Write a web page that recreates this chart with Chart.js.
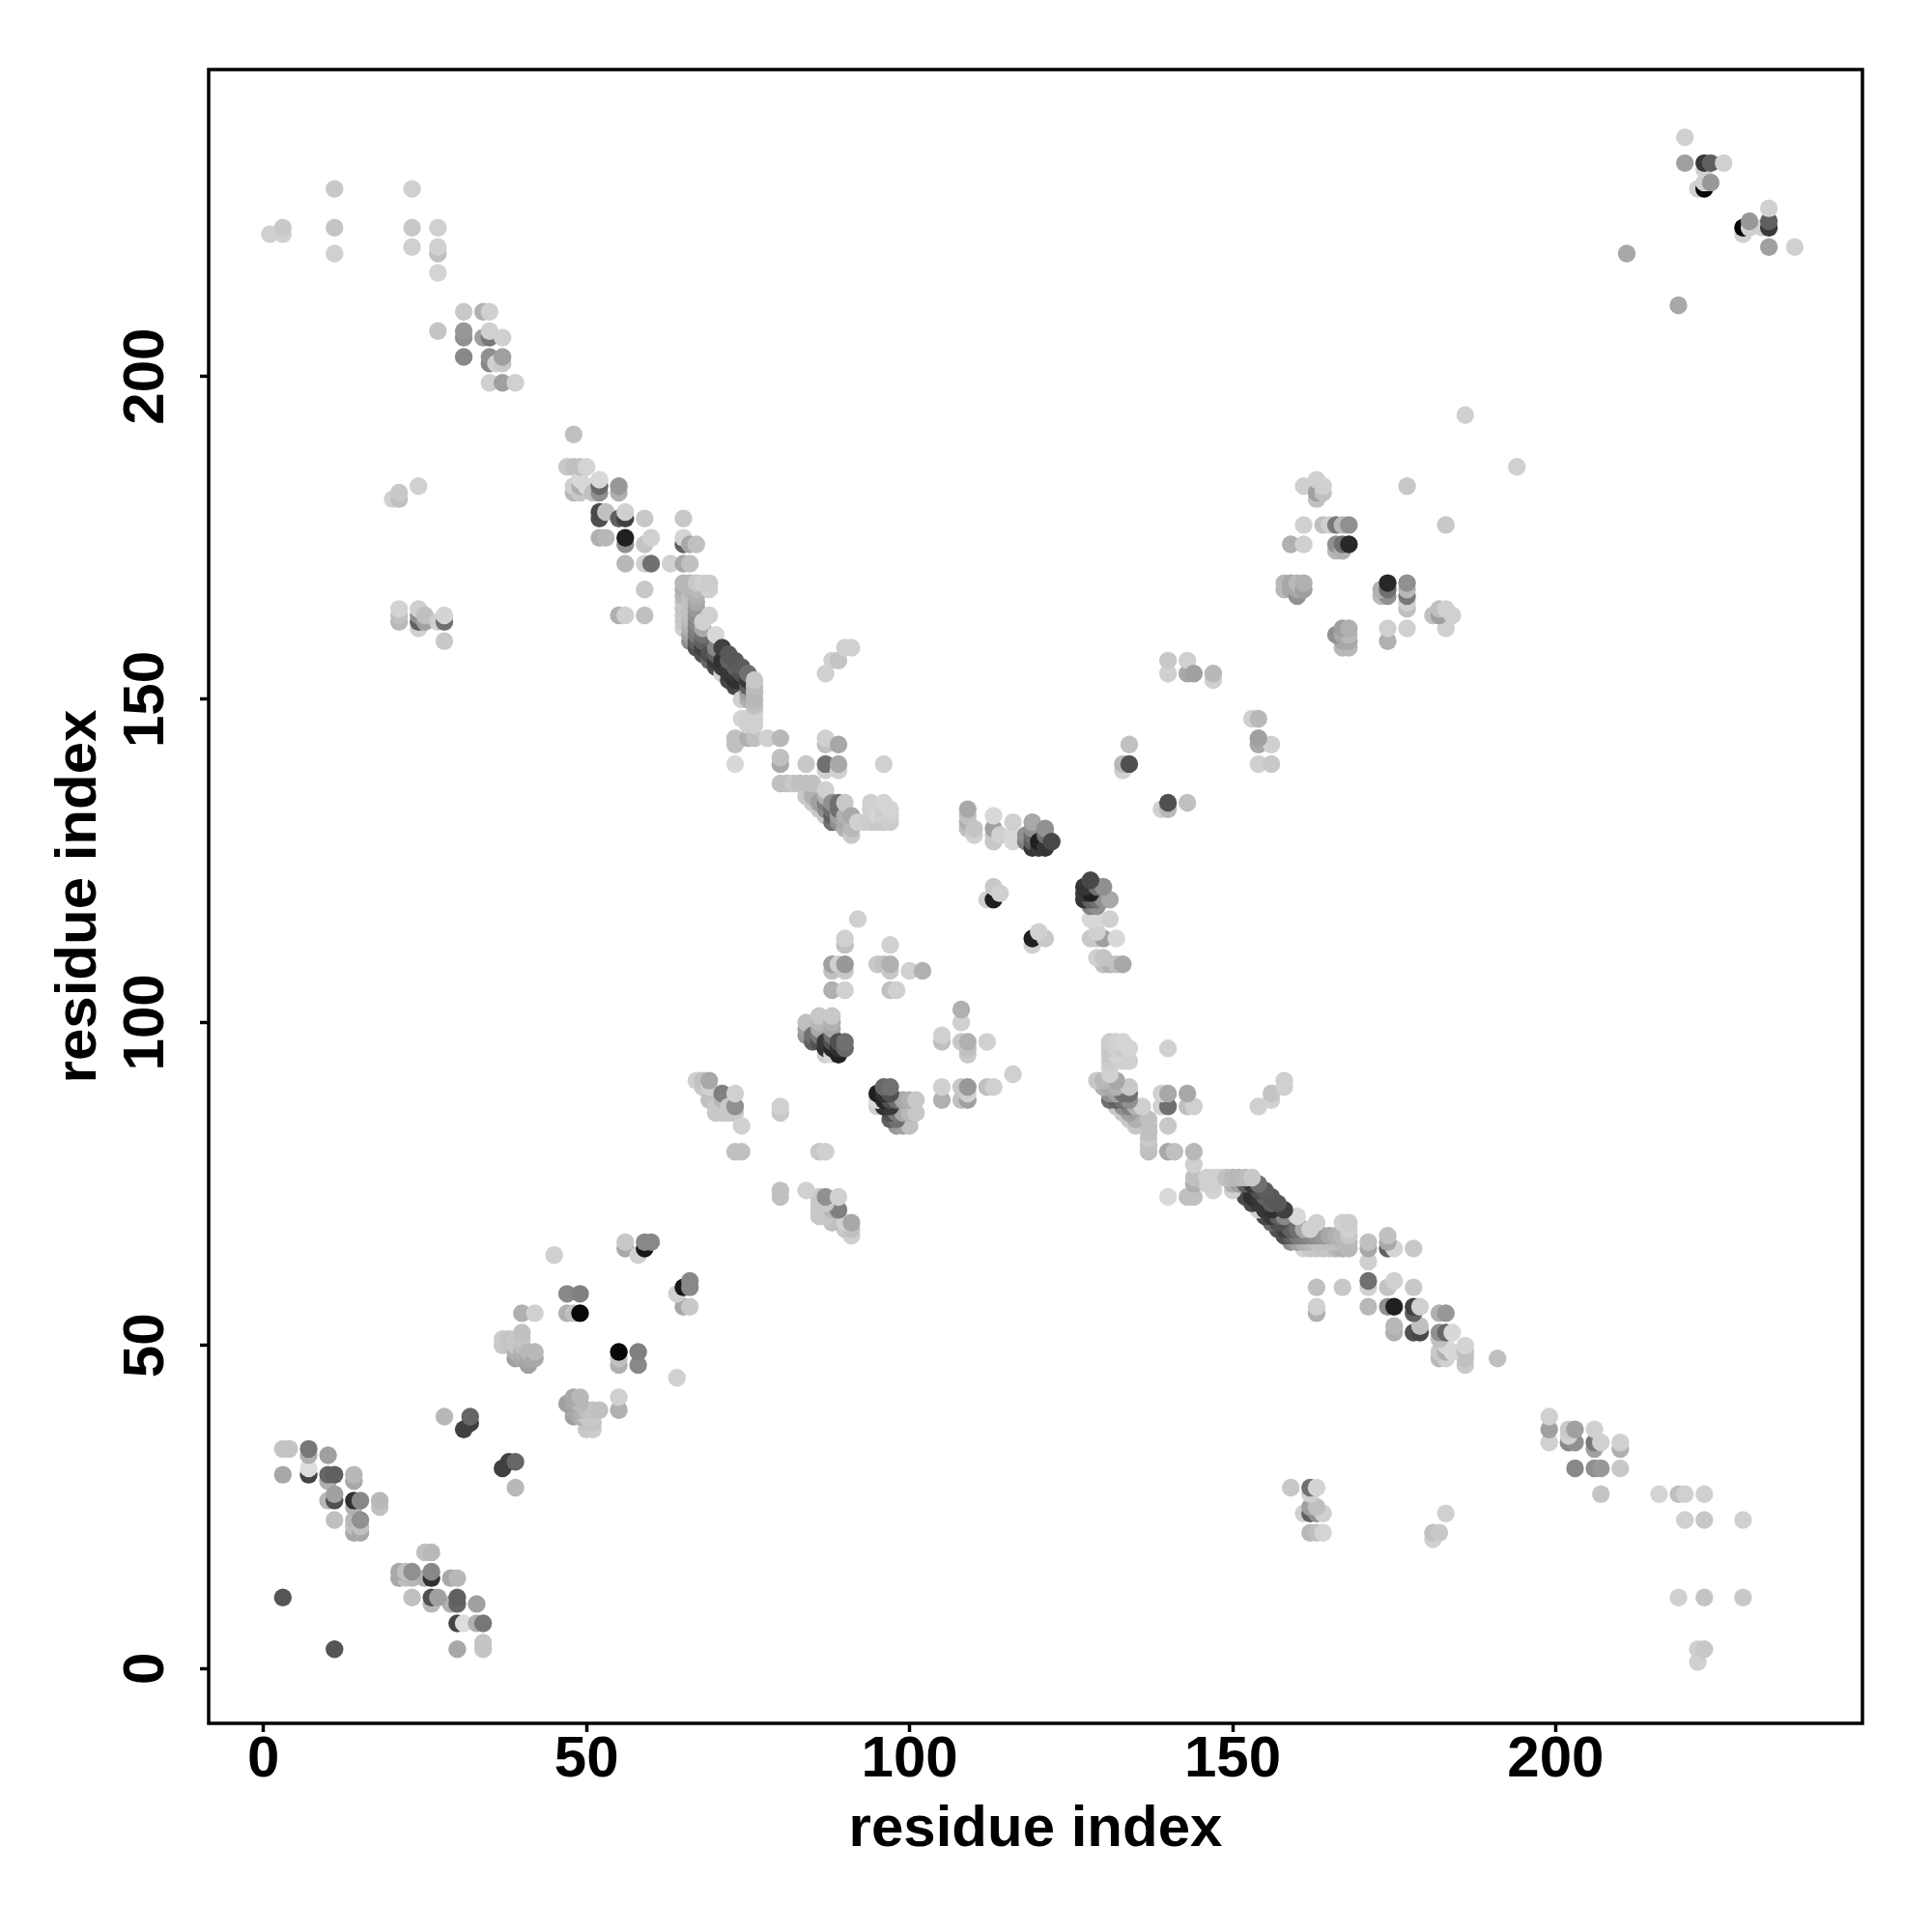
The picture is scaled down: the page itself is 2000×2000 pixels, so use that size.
<!DOCTYPE html>
<html><head><meta charset="utf-8">
<style>html,body{margin:0;padding:0;background:#fff}canvas{display:block}</style>
<script src="https://cdn.jsdelivr.net/npm/chart.js@4"></script>
</head><body>
<canvas id="c" width="2000" height="2000"></canvas>
<script>
const axisTitle = 'residue index';
const tickValues = [0, 50, 100, 150, 200];
const axisMin = -8.48, axisMax = 247.48;

// residue i of each contact group
const residues = [1,3,4,7,10,11,14,15,18,20,21,23,24,25,27,28,31,32,34,35,36,37,38,39,40,41,42,45,47,48,49,50,51,52,53,55,56,58,59,60,63,65,66,67,68,69,70,71,72,73,74,75,76,78,80,81,82,83,84,85,86,87,88,89,90,91,92,93,94,95,96,97,98,100,102,109,110,112,113,114,116,118,119,120,121,122,133,134,140,143,144,147,158,159,160,161,163,164,165,166,167,168,177,186,211,220,222,223,224,226];

// residues j in contact with residue i (same row order as residues)
const partners = [
[222],[11,30,34,222,223],[34],[30,31,33,34],[26,29,30,33],[23,26,27,30,219,223,229],
[21,22,23,25,26,29,30],[21,22,23,26],[25,26],[181],[162,163,164,181,182],[220,223,229],
[161,162,163,164,183],[162,163],[162,207,216,219,220,223],[39,159,162,163],[37,203,206,207,210],[38,39],
[206,210],[199,202,203,206,207,210],[202],[50,51,199,202,203,206],[50,51],[48,49,50,51,199],
[48,49,50,51,52,55],[47,48,49],[48,49,55],[64],[55,58,186],[55,182,183,186,191],
[55,58,182,183,184,186],[183,186],[182],[175,178,179,182,183,184],[175,179],[163,178,182,183],
[65,66,163,171,174,175,178,179],[64],[65,66,163,167,171,174,178],[66,171,175],[171],
[161,162,163,164,165,166,167,168,171,174,175,178],
[159,160,161,162,163,164,165,166,167,168,171,174],
[91,158,159,160,161,162,163,164,165,166,167,168,174],
[90,91,157,158,159,160,161,162,168],
[88,90,91,156,157,163,167,168],
[86,87,155,156,157,158,160],
[86,88,89,154,155,156,158],
[86,87,153,154,155,156,157],
[80,86,87,89,140,143,144,152,153,154,155,156],
[80,84,147,150,153,154,155],
[144,146,147,150,151,152,153,154],
[144,146,147,148,149,150,151,152,153],
[144],[86,87,137,140,141,144],[137],[137],[137],
[98,99,100,135,137,140],
[97,98,134,135,137],
[97,98,99,100,101,133,134],
[95,96,97,132,133,134,135,136,139,140,143,144,154],
[95,96,97,98,99,100,101,105,108,109,131,132,133,134,156],
[95,96,97,109,131,132,133,134,139,140,143,156],
[96,97,105,108,109,112,113,130,131,132,134,158],
[129,130,132,158],[116,131],[131],[131,133,134],[109,131,132],[109,131,132,133,134,140],
[105,108,109,112,131,132,133],[105],[108],[108],
[130,131,132,133],[129,130],[119],[119,121,128,129,130,132],[120,129],[128,129,131],
[128,129],[127,128,129,130,131],[127,128],[127,129,130],[128],[139,140],[140,143],
[154,156],[154,156],[154],[153,154],
[167,168],[167,168,174],[166,167,168],[167,168,174,177,183],[181,182,184],[177,182,183],[177],
[173,174,177],[173,174,177],[174,177],[183],[194],[219],[233,237],[229],[229,230,232,233],[230,233],[233]
];

// grey level (0-255) of each contact (same shape as partners)
const shades = [
[0xd0],[0x55,0xa8,0xc4,0xd0,0xc8],[0xc4],[0x44,0xdd,0xb0,0x77],[0xb8,0xb0,0x66,0xa0],[0xc0,0x50,0xa0,0x60,0xd0,0xc4,0xc8],
[0xa8,0xc0,0xb8,0xb0,0x30,0xa8,0xb8],[0xa8,0xc0,0x90,0x88],[0xc0,0xb8],[0xd0],[0xb8,0xc0,0xd4,0xc0,0xc8],[0xd0,0xc8,0xd0],
[0xd0,0x60,0x90,0xd0,0xd0],[0xa0,0xc0],[0xd0,0xc4,0xd4,0xc0,0xd0,0xd0],[0xb8,0xc8,0x70,0xd4],[0x40,0x88,0x90,0x98,0xc8],[0x40,0x66],
[0xa0,0xb0],[0xd0,0x88,0x90,0x78,0xd0,0xd0],[0xd0],[0xc8,0xcc,0xa0,0xc8,0xa0,0xd0],[0xc4,0xc4],[0xa0,0xb0,0xc8,0xc8,0xd0],
[0xa8,0xb0,0xc0,0xc4,0xc0,0xb0],[0xa0,0xa8,0xb8],[0xa8,0xb8,0xd0],[0xd0],[0xb0,0x88,0xc8],[0xc0,0xb8,0xd0,0xc0,0xc0],
[0x08,0x80,0xc8,0xb0,0xd8,0xc0],[0xd8,0xd4],[0xc0],[0xb0,0x50,0x48,0x90,0x68,0xd8],[0xb8,0xc0],[0xb0,0x60,0xb0,0x98],
[0xa8,0xc8,0xd0,0xb8,0x90,0x20,0x40,0xd0],[0xd0],[0x18,0x88,0xc0,0xc8,0xd0,0xc4,0xc8],[0x88,0x70,0xd0],[0xd0],
[0xd0,0xc8,0xc8,0xc4,0xc8,0xb8,0xb0,0xb8,0xa8,0x60,0xd4,0xc8],
[0x90,0xa0,0xb0,0xb8,0xc0,0xc0,0xc0,0xc0,0xb8,0xb8,0xc0,0xa8],
[0xd0,0x50,0x60,0x78,0x80,0x88,0x90,0x98,0xa8,0xb0,0xb8,0xc8,0xc0],
[0xc8,0xc0,0x50,0x40,0x60,0x70,0xa8,0xd0,0xd0],
[0xc0,0xd0,0xa8,0x68,0x50,0xd0,0xd0,0xcc],
[0xc8,0xc8,0x48,0x38,0x60,0x88,0xd8],
[0xc8,0xb8,0x80,0xd0,0x38,0x30,0x40],
[0xc8,0xc8,0x48,0x38,0x38,0x60,0x58],
[0xc0,0xc8,0x90,0xd0,0xd8,0xc0,0xc0,0x48,0x30,0x38,0x60,0x58],
[0xc0,0xd0,0xd4,0xd0,0x30,0x50,0x5c],
[0xb0,0xd0,0xd0,0xb0,0xa0,0x60,0x38,0x70],
[0xc0,0xd0,0xd0,0xd0,0xc0,0xb8,0xb8,0xbc,0xc8],
[0xd0],[0xc8,0xd0,0xc0,0xa8,0xc0,0xb8],[0xc0],[0xc8],[0xc0],
[0x98,0xa0,0xc0,0xc8,0xc0,0xc8],
[0x60,0x70,0xc8,0xb0,0xc0],
[0x50,0x78,0xa8,0xb8,0xc8,0xc8,0xa0],
[0xd0,0x30,0x38,0xc8,0x90,0x80,0xb0,0xd0,0xd0,0x70,0xc0,0xd0,0xd0],
[0xd8,0x28,0x50,0x70,0xa8,0xb0,0xc8,0xb0,0xc0,0xa0,0x70,0x60,0x70,0x90,0xd0],
[0x20,0x30,0x50,0xd0,0x90,0xa0,0x70,0x70,0xd0,0xa8,0xa8,0xc4],
[0x68,0x70,0xd0,0xc8,0x98,0xc0,0xd0,0xb0,0xa8,0xb0,0xc8,0xd0],
[0xc8,0xb8,0xa8,0xd0],[0xd0,0xd0],[0xd0],[0xcc,0xd0,0xd0],[0xc8,0xc8,0xd4],[0xc0,0xc8,0xd0,0xcc,0xd4,0xd0],
[0xc0,0xc8,0xb0,0xd0,0xcc,0xd0,0xd4],[0xd0],[0xd0],[0xb0],
[0xc0,0xb0,0xc0,0xa8],[0xd0,0xc4],[0xd0],[0x20,0xc8,0xc8,0xc8,0xa0,0xd8],[0xd0,0xd0],[0xd8,0xd8,0xd0],
[0x80,0x90],[0x35,0x60,0x70,0x90,0xa8],[0x38,0x20],[0x35,0x70,0x90],[0x48],[0xd0,0xb8],[0x50,0xc0],
[0xd0,0xc8],[0xa8,0xd0],[0xa0],[0xd0,0xb8],
[0xb8,0xb8],[0xa8,0xa8,0xb0],[0x90,0xa8,0xb8],[0xa0,0xb0,0xd0,0xd0,0xd0],[0xc0,0xa0,0xd0],[0xc0,0xc0,0xd0],[0xd0],
[0xb8,0x90,0x78],[0xb0,0x70,0xb8],[0x28,0x90],[0xc8],[0xd0],[0xa8],[0xa0,0xd0],[0xd0],[0x05,0xd0,0xd0,0x38],[0x98,0x60],[0xd0]
];

const pointsFirst = [], pointsMirror = [], colours = [];
residues.forEach((i, row) => {
  partners[row].forEach((j, k) => {
    const g = shades[row][k];
    pointsFirst.push({x: i, y: j});
    pointsMirror.push({x: j, y: i});
    colours.push(`rgb(${g},${g},${g})`);
  });
});

const frame = {
  id: 'frame',
  afterDatasetsDraw(chart) {
    const {ctx, chartArea: a} = chart;
    ctx.save();
    ctx.strokeStyle = '#000';
    ctx.lineWidth = 3.5;
    ctx.strokeRect(a.left, a.top, a.right - a.left, a.bottom - a.top);
    ctx.restore();
  }
};

const labelFont = {family: '"Liberation Sans"', weight: 'bold', size: 60};
function axis(extra, titlePad) {
  return Object.assign({
    type: 'linear', min: axisMin, max: axisMax,
    afterBuildTicks: s => { s.ticks = tickValues.map(value => ({value})); },
    grid: {drawOnChartArea: false, drawTicks: true, tickLength: 9, tickWidth: 3.5, tickColor: '#000'},
    border: {display: false},
    title: {display: true, text: axisTitle, color: '#000', font: {family: '"Liberation Sans"', weight: 'bold', size: 60}, padding: titlePad}
  }, extra);
}

new Chart(document.getElementById('c'), {
  type: 'scatter',
  data: {datasets: [
    {data: pointsFirst, backgroundColor: colours, pointRadius: 9.2, borderWidth: 0, pointBorderWidth: 0, clip: false},
    {data: pointsMirror, backgroundColor: colours, pointRadius: 9.2, borderWidth: 0, pointBorderWidth: 0, clip: false}
  ]},
  options: {
    responsive: false, animation: false, devicePixelRatio: 1,
    layout: {padding: {left: 0, top: 72, right: 72, bottom: 0}},
    plugins: {legend: {display: false}, tooltip: {enabled: false}, title: {display: false}},
    scales: {
      x: axis({
        position: 'bottom',
        afterFit: s => { s.height = 216; },
        ticks: {color: '#000', font: labelFont, padding: -7, maxRotation: 0, autoSkip: false, callback: v => String(v)}
      }, {top: 0, bottom: 70}),
      y: axis({
        position: 'left',
        afterFit: s => { s.width = 216; },
        ticks: {color: '#000', font: labelFont, padding: 4, minRotation: 90, maxRotation: 90, crossAlign: 'center', autoSkip: false, callback: v => String(v)}
      }, {top: 46, bottom: 0})
    }
  },
  plugins: [frame]
});
</script>
</body></html>
